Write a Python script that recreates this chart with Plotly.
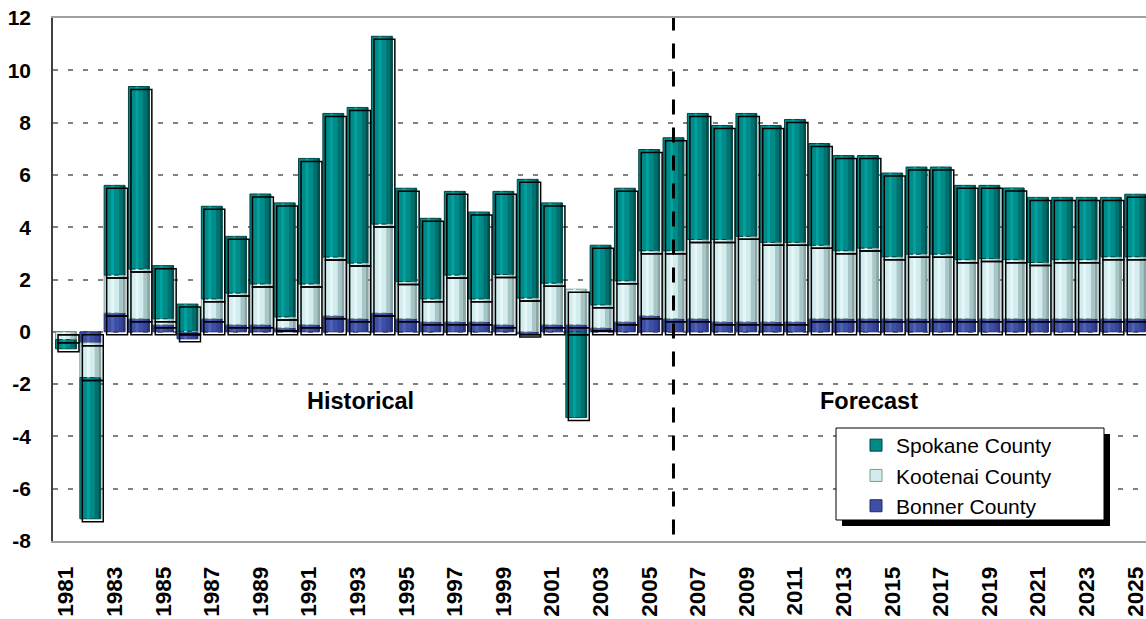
import plotly.graph_objects as go

# annual change, stacked by county
years = list(range(1981, 2026))

bonner = [0.0, -0.42, 0.72, 0.5, 0.27, -0.27, 0.5, 0.27, 0.27, 0.15,
          0.27, 0.61, 0.5, 0.72, 0.5, 0.38, 0.38, 0.38, 0.27, -0.08,
          0.27, 0.27, 0.15, 0.38, 0.61, 0.5, 0.5, 0.38, 0.38, 0.38,
          0.38, 0.5, 0.5, 0.5, 0.5, 0.5, 0.5, 0.5, 0.5, 0.5,
          0.5, 0.5, 0.5, 0.5, 0.5]

kootenai = [-0.3, -1.33, 1.45, 1.9, 0.23, 0.02, 0.76, 1.21, 1.56, 0.42,
            1.56, 2.25, 2.13, 3.4, 1.42, 0.88, 1.79, 0.88, 1.92, 1.29,
            1.59, 1.36, 0.88, 1.57, 2.49, 2.6, 3.03, 3.15, 3.27, 3.04,
            3.04, 2.81, 2.6, 2.7, 2.37, 2.47, 2.47, 2.26, 2.3, 2.26,
            2.15, 2.26, 2.26, 2.37, 2.37]

spokane = [-0.35, -5.4, 3.43, 6.98, 2.03, 1.04, 3.54, 2.17, 3.44, 4.36,
           4.8, 5.49, 5.95, 7.18, 3.57, 3.08, 3.2, 3.32, 3.18, 4.54,
           3.07, -3.28, 2.28, 3.54, 3.87, 4.32, 4.82, 4.36, 4.7, 4.47,
           4.7, 3.89, 3.64, 3.54, 3.2, 3.33, 3.33, 2.84, 2.8, 2.74,
           2.49, 2.38, 2.38, 2.27, 2.39]

county_names = ["Bonner County", "Kootenai County", "Spokane County"]
tick_years = list(range(1981, 2026, 2))
y_ticks = list(range(-8, 13, 2))
forecast_start = 2006

FONT = "Liberation Sans, Arial, sans-serif"

# plot area in pixels, used to place the hand drawn legend box
L, R, T, B = 53, 1146, 18, 541
X_RANGE = [1980.465, 2025.445]
Y_RANGE = [-8, 12]


def px_x(px):
    return (px - L) / (R - L)


def px_y(py):
    return (B - py) / (B - T)


# shading layers give the bars a bit of the "cylinder" look
layers = [
    # suffix, colours (bonner, kootenai, spokane), width, offset
    ("", ["#3e50a6", "#d3edef", "#008a88"], 0.86, -0.43),
    ("2", ["#5062b8", "#e6f7f8", "#00a19e"], 0.12, -0.14),
    ("3", ["#34449a", "#a9c6c6", "#00706e"], 0.16, 0.18),
    ("4", ["#27327a", "#8ba5a5", "#004e4c"], 0.09, 0.34),
]
edge_colors = ["#1f2870", "#7f9a9a", "#004240"]

fig = go.Figure()
series = [bonner, kootenai, spokane]

for suffix, colors, w, off in layers:
    for i, vals in enumerate(series):
        base = suffix == ""
        fig.add_trace(go.Bar(
            x=years,
            y=vals,
            name=county_names[i],
            width=w,
            offset=off,
            marker=dict(color=colors[i],
                        line=dict(width=1 if base else 0, color=edge_colors[i])),
            showlegend=base,
            legendrank=3 - i,
            xaxis="x" + suffix,
            yaxis="y" + suffix,
            hoverinfo="skip" if not base else None,
        ))

# black outline boxes, shifted a few pixels right and down
for i, vals in enumerate(series):
    fig.add_trace(go.Bar(
        x=years,
        y=vals,
        width=0.86,
        offset=-0.43,
        marker=dict(color="rgba(0,0,0,0)", line=dict(width=1.5, color="black")),
        showlegend=False,
        xaxis="x5",
        yaxis="y5",
        hoverinfo="skip",
    ))

dx = 2.5 / ((R - L) / (X_RANGE[1] - X_RANGE[0]))
dy = 3.0 / ((B - T) / (Y_RANGE[1] - Y_RANGE[0]))

overlay_x = dict(overlaying="x", visible=False, range=X_RANGE)
overlay_y = dict(overlaying="y", visible=False, range=Y_RANGE)

fig.update_layout(
    width=1146,
    height=619,
    margin=dict(l=L, r=1146 - R, t=T, b=619 - B, autoexpand=False),
    barmode="relative",
    plot_bgcolor="white",
    paper_bgcolor="white",
    font=dict(family=FONT, color="black"),
    xaxis=dict(
        range=X_RANGE,
        tickmode="array",
        tickvals=tick_years,
        ticktext=[str(y) for y in tick_years],
        tickangle=-90,
        tickfont=dict(size=22.5, weight="bold"),
        ticks="outside",
        ticklen=15,
        tickcolor="rgba(0,0,0,0)",
        ticklabeloverflow="allow",
        showgrid=False,
        showline=True,
        linecolor="#a0a0a0",
        linewidth=1.5,
        mirror=True,
        zeroline=False,
        automargin=False,
    ),
    yaxis=dict(
        range=Y_RANGE,
        tickmode="array",
        tickvals=y_ticks,
        ticktext=[str(v) for v in y_ticks],
        tickfont=dict(size=21, weight="bold"),
        ticks="outside",
        ticklen=16,
        tickcolor="rgba(0,0,0,0)",
        showgrid=True,
        gridcolor="#808080",
        gridwidth=1.5,
        griddash="5px,10px",
        showline=True,
        linecolor="#404040",
        linewidth=1.5,
        zeroline=False,
        automargin=False,
    ),
    xaxis2=overlay_x, yaxis2=overlay_y,
    xaxis3=overlay_x, yaxis3=overlay_y,
    xaxis4=overlay_x, yaxis4=overlay_y,
    xaxis5=dict(overlaying="x", visible=False,
                range=[X_RANGE[0] - dx, X_RANGE[1] - dx]),
    yaxis5=dict(overlaying="y", visible=False,
                range=[Y_RANGE[0] + dy, Y_RANGE[1] + dy]),
    legend=dict(
        x=px_x(856),
        y=px_y(425),
        xanchor="left",
        yanchor="top",
        bgcolor="rgba(0,0,0,0)",
        borderwidth=0,
        font=dict(size=21, family=FONT),
        traceorder="normal",
    ),
    showlegend=True,
)

# legend frame with its drop shadow
fig.add_shape(type="rect", xref="paper", yref="paper",
              x0=px_x(842), x1=px_x(1110), y0=px_y(526), y1=px_y(434),
              fillcolor="black", line=dict(width=0), layer="above")
fig.add_shape(type="rect", xref="paper", yref="paper",
              x0=px_x(836), x1=px_x(1104), y0=px_y(520), y1=px_y(428),
              fillcolor="white", line=dict(width=1, color="black"), layer="above")

# start of the forecast period
fig.add_shape(type="line", xref="x", yref="y",
              x0=forecast_start, x1=forecast_start, y0=-7.75, y1=12.15,
              line=dict(color="black", width=3, dash="15px,13px"))

fig.add_annotation(x=1993.1, y=-2.65, text="Historical", showarrow=False,
                   font=dict(size=23.5, weight="bold"))
fig.add_annotation(x=2014.05, y=-2.65, text="Forecast", showarrow=False,
                   font=dict(size=23.5, weight="bold"))

# the page's default body margin would push the figure 8px in
fig.write_html("out.html", config={"displayModeBar": False},
               post_script="document.body.style.margin='0';")
